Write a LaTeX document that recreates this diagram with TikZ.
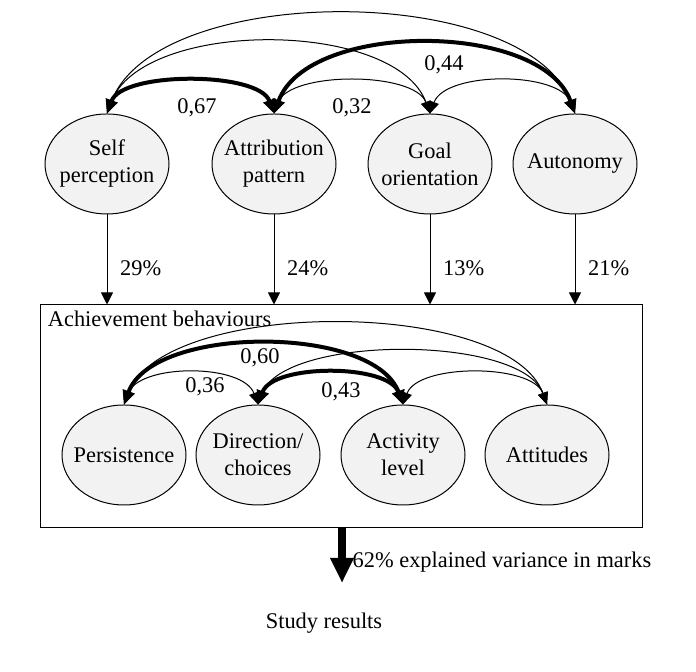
\documentclass[tikz,border=0pt]{standalone}
\usepackage{fontspec}
\setmainfont{Liberation Serif}
\usetikzlibrary{arrows.meta,shapes.geometric}
\tikzset{factor node/.style={ellipse,draw,line width=0.5pt,fill=black!5,minimum width=62pt,minimum height=50pt,inner xsep=-6pt,inner ysep=0pt,align=center}}
\tikzset{path edge/.style={line width=0.5pt,-{Triangle[length=6pt,width=6pt]}}}
\tikzset{weak edge/.style={line width=0.5pt,{Triangle[length=6pt,width=5pt]}-{Triangle[length=6pt,width=5pt]},out=70,in=110}}
\tikzset{strong edge/.style={line width=2pt,{Triangle[length=7pt,width=6pt]}-{Triangle[length=7pt,width=6pt]},out=70,in=110}}
\tikzset{result edge/.style={line width=4pt,-{Triangle[length=12.5pt,width=11pt]}}}

\begin{document}
\begin{tikzpicture}[x=0.5pt,y=0.5pt,font=\fontsize{11.2}{13.5}\selectfont]
\useasboundingbox (0,0) rectangle (696,672);

\node[factor node] (self) at (107,508) {Self\\perception};
\node[factor node] (attr) at (274,508) {Attribution\\pattern};
\node[factor node] (goal) at (430,508) {Goal\\orientation};
\node[factor node] (auto) at (575,508) {Autonomy};

\node[draw,line width=0.5pt,minimum width=301pt,minimum height=111.5pt,inner sep=0] (behav) at (341,255.5) {};
\node[anchor=north west,inner xsep=4pt,inner ysep=3pt] (behavname) at (behav.north west) {Achievement behaviours};

\node[factor node] (pers) at (124,217) {Persistence};
\node[factor node] (dir) at (258,217) {Direction/\\choices};
\node[factor node] (act) at (403,217) {Activity\\level};
\node[factor node] (att) at (547,217) {Attitudes};

\draw[path edge] (self) -- (self |- behav.north) node[pos=0.6,right,xshift=3pt] (p29) {29\%};
\draw[path edge] (attr) -- (attr |- behav.north) node[pos=0.6,right,xshift=3pt] (p24) {24\%};
\draw[path edge] (goal) -- (goal |- behav.north) node[pos=0.6,right,xshift=3pt] (p13) {13\%};
\draw[path edge] (auto) -- (auto |- behav.north) node[pos=0.6,right,xshift=3pt] (p21) {21\%};

\draw[strong edge] (self.north) to[looseness=0.69] (attr.north);
\draw[weak edge] (attr.north) to[looseness=0.74] (goal.north);
\draw[weak edge] (goal.north) to[looseness=0.8] (auto.north);
\draw[weak edge] (self.north) to[looseness=0.8] (goal.north);
\draw[strong edge] (attr.north) to[looseness=0.84] (auto.north);
\draw[weak edge] (self.north) to[looseness=0.77] (auto.north);
\node (r67) at (197,564) {0,67};
\node (r32) at (352,564) {0,32};
\node (r44) at (444,607) {0,44};

\draw[weak edge] (pers.north) to[looseness=0.84] (dir.north);
\draw[strong edge] (dir.north) to[looseness=0.77] (act.north);
\draw[weak edge] (act.north) to[looseness=0.78] (att.north);
\draw[strong edge] (pers.north) to[looseness=0.78] (act.north);
\draw[weak edge] (dir.north) to[looseness=0.66] (att.north);
\draw[weak edge] (pers.north) to[looseness=0.69] (att.north);
\node (r60) at (260,314) {0,60};
\node (r36) at (205,285) {0,36};
\node (r43) at (341,280) {0,43};

\coordinate (tip) at (342,89);
\draw[result edge] (behav.south -| tip) -- (tip) node[pos=0.62,right] (var) {62\% explained variance in marks};
\node (study) at (324,49) {Study results};

\end{tikzpicture}
\end{document}
